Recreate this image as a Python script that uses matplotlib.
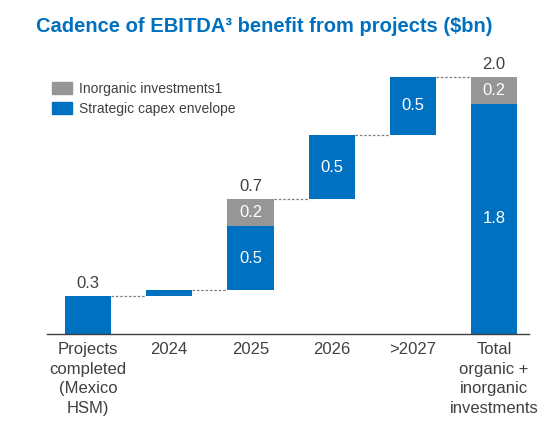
import matplotlib.pyplot as plt
from matplotlib.patches import Patch

plt.rcParams['font.family'] = ['Liberation Sans', 'DejaVu Sans']

categories = ['Projects\ncompleted\n(Mexico\nHSM)', '2024', '2025', '2026', '>2027',
              'Total\norganic +\ninorganic\ninvestments']
# blue (strategic capex) and grey (inorganic) step heights
capex = [0.29, 0.045, 0.50, 0.50, 0.455]
inorganic = [0.0, 0.0, 0.21, 0.0, 0.0]
capex_labels = ['', '', '0.5', '0.5', '0.5']
inorganic_labels = ['', '', '0.2', '', '']
top_labels = ['0.3', '', '0.7', '', '']
total_capex_label = '1.8'
total_inorg_label = '0.2'
total_label = '2.0'

BLUE = '#0070C0'
GREY = '#969696'
TXT = '#404040'
FS = 12

fig = plt.figure(figsize=(5.58, 4.48), dpi=100)
ax = fig.add_axes([47 / 558, 1 - 333.5 / 448, (529 - 47) / 558, (333.5 - 51) / 448])

w = 0.57
base = 0.0
tops = []
for i in range(len(capex)):
    ax.bar(i, capex[i], w, bottom=base, color=BLUE)
    if capex_labels[i]:
        ax.text(i, base + capex[i] / 2, capex_labels[i], ha='center', va='center',
                color='white', fontsize=FS)
    b2 = base + capex[i]
    if inorganic[i] > 0:
        ax.bar(i, inorganic[i], w, bottom=b2, color=GREY)
        ax.text(i, b2 + inorganic[i] / 2, inorganic_labels[i], ha='center', va='center',
                color='white', fontsize=FS)
    top = b2 + inorganic[i]
    if top_labels[i]:
        ax.text(i, top + 0.04, top_labels[i], ha='center', va='bottom',
                color=TXT, fontsize=FS)
    tops.append(top)
    base = top

# total bar
n = len(capex)
tot_capex = sum(capex)
tot_inorg = sum(inorganic)
ax.bar(n, tot_capex, w, color=BLUE)
ax.bar(n, tot_inorg, w, bottom=tot_capex, color=GREY)
ax.text(n, tot_capex / 2, total_capex_label, ha='center', va='center', color='white', fontsize=FS)
ax.text(n, tot_capex + tot_inorg / 2, total_inorg_label, ha='center', va='center',
        color='white', fontsize=FS)
ax.text(n, tot_capex + tot_inorg + 0.04, total_label, ha='center', va='bottom',
        color=TXT, fontsize=FS)
tops.append(tot_capex + tot_inorg)

# dashed connectors
for i in range(n):
    ax.plot([i + w / 2, i + 1 - w / 2], [tops[i], tops[i]], ls=(0, (2, 1.5)),
            color='#7f7f7f', lw=0.9)

ax.set_xlim(-0.505, 5.43)
ax.set_ylim(0, 2.2)
ax.set_xticks(range(len(categories)))
ax.set_xticklabels(categories, fontsize=FS, color=TXT, linespacing=1.4)
ax.tick_params(axis='x', length=0, pad=6)
ax.set_yticks([])
for s in ['top', 'right', 'left']:
    ax.spines[s].set_visible(False)
ax.spines['bottom'].set_color('#404040')
ax.spines['bottom'].set_linewidth(1.0)

handles = [Patch(color=GREY, label='Inorganic investments1'),
           Patch(color=BLUE, label='Strategic capex envelope')]
fig.legend(handles=handles, loc='upper left', bbox_to_anchor=(46 / 558, 1 - 76 / 448),
           frameon=False, fontsize=10, labelcolor=TXT, handlelength=1.45,
           handleheight=1.0, handletextpad=0.5, labelspacing=0.45, borderaxespad=0)

fig.text(264 / 558, 1 - 26 / 448, 'Cadence of EBITDA\u00b3 benefit from projects (\\$bn)',
         ha='center', va='center', color=BLUE, fontsize=14.5, fontweight='bold')

fig.savefig('out.png', dpi=100)
